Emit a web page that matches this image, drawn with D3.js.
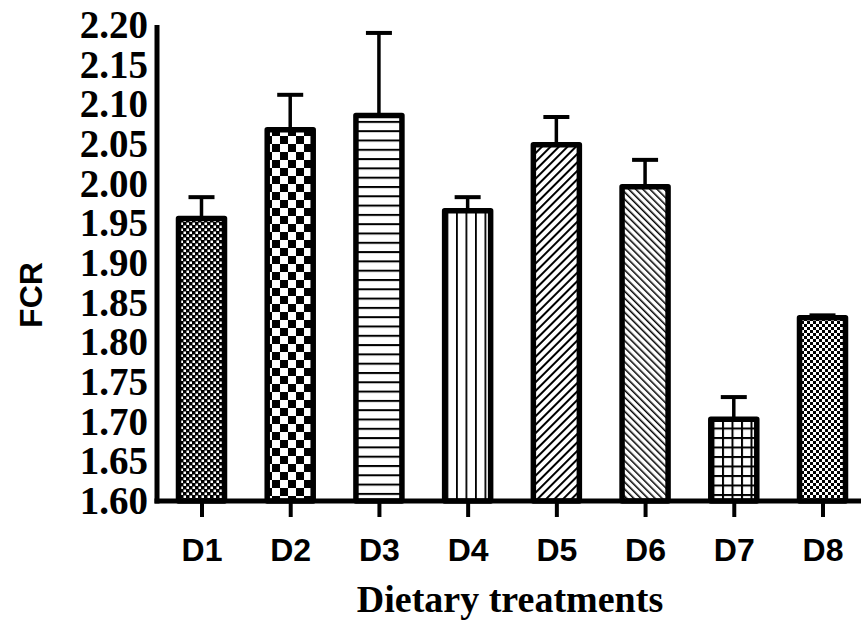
<!DOCTYPE html>
<html>
<head>
<meta charset="utf-8">
<script src="https://cdn.jsdelivr.net/npm/d3@7"></script>
<style>
  html, body { margin: 0; padding: 0; background: #fff; }
  svg { display: block; }
</style>
</head>
<body>
<svg id="chart" width="861" height="622"></svg>
<script>
// Feed conversion ratio per dietary treatment (mean + upper SE)
const treatments = ["D1", "D2", "D3", "D4", "D5", "D6", "D7", "D8"];
const fcrMean = [1.956, 2.068, 2.086, 1.966, 2.049, 1.996, 1.703, 1.831];
const fcrUpper = [1.983, 2.112, 2.190, 1.983, 2.084, 2.030, 1.731, 1.834];
const yTicks = [1.60, 1.65, 1.70, 1.75, 1.80, 1.85, 1.90, 1.95, 2.00, 2.05, 2.10, 2.15, 2.20];
const fillPatterns = ["dots", "checker", "hlines", "vlines", "fwdiag", "backdiag", "grid", "finecheck"];

const svg = d3.select("#chart");
const axisX = 157, axisTop = 25, axisBottom = 501;

const y = d3.scaleLinear().domain([1.6, 2.2]).range([axisBottom, axisTop]);
const x = d3.scalePoint().domain(treatments).range([201.5, 822.5]);
const barW = 46;

// ---- hatch / fill patterns ----
const defs = svg.append("defs");
function pat(id, w, h) {
  return defs.append("pattern").attr("id", id).attr("patternUnits", "userSpaceOnUse")
    .attr("width", w).attr("height", h);
}
// D1: white dot lattice on black
let p = pat("dots", 6, 6);
p.append("rect").attr("width", 6).attr("height", 6).attr("fill", "#000");
p.append("rect").attr("x", 0.5).attr("y", 0.5).attr("width", 2.5).attr("height", 2.5).attr("fill", "#fff");
p.append("rect").attr("x", 3.5).attr("y", 3.5).attr("width", 2.5).attr("height", 2.5).attr("fill", "#fff");
// D2: coarse checkerboard
p = pat("checker", 16, 16);
p.append("rect").attr("width", 16).attr("height", 16).attr("fill", "#fff");
p.append("rect").attr("width", 8).attr("height", 8).attr("fill", "#000");
p.append("rect").attr("x", 8).attr("y", 8).attr("width", 8).attr("height", 8).attr("fill", "#000");
// D3: horizontal lines
p = pat("hlines", 10, 9.3);
p.append("rect").attr("width", 10).attr("height", 9.3).attr("fill", "#fff");
p.append("rect").attr("y", 0).attr("width", 10).attr("height", 2).attr("fill", "#000");
// D4: vertical lines
p = pat("vlines", 9.5, 10);
p.append("rect").attr("width", 9.5).attr("height", 10).attr("fill", "#fff");
p.append("rect").attr("x", 0).attr("width", 1.8).attr("height", 10).attr("fill", "#000");
// D5: forward diagonal
p = pat("fwdiag", 6, 6).attr("patternTransform", "rotate(45)");
p.append("rect").attr("width", 6).attr("height", 6).attr("fill", "#fff");
p.append("rect").attr("width", 2).attr("height", 6).attr("fill", "#000");
// D6: backward diagonal
p = pat("backdiag", 5, 5).attr("patternTransform", "rotate(-45)");
p.append("rect").attr("width", 5).attr("height", 5).attr("fill", "#fff");
p.append("rect").attr("width", 1.5).attr("height", 5).attr("fill", "#000");
// D7: square grid
p = pat("grid", 9.5, 9.5);
p.append("rect").attr("width", 9.5).attr("height", 9.5).attr("fill", "#fff");
p.append("rect").attr("width", 9.5).attr("height", 2).attr("fill", "#000");
p.append("rect").attr("width", 2).attr("height", 9.5).attr("fill", "#000");
// D8: fine checker
p = pat("finecheck", 6, 6);
p.append("rect").attr("width", 6).attr("height", 6).attr("fill", "#fff");
p.append("rect").attr("width", 3).attr("height", 3).attr("fill", "#000");
p.append("rect").attr("x", 3).attr("y", 3).attr("width", 3).attr("height", 3).attr("fill", "#000");

const data = treatments.map((t, i) => ({ t, mean: fcrMean[i], upper: fcrUpper[i], fill: fillPatterns[i] }));

// ---- error bars (upper only) ----
const err = svg.append("g").attr("stroke", "#000");
err.selectAll("line.stem").data(data).join("line")
  .attr("x1", d => x(d.t)).attr("x2", d => x(d.t))
  .attr("y1", d => y(d.mean)).attr("y2", d => y(d.upper))
  .attr("stroke-width", 3.5);
err.selectAll("line.cap").data(data).join("line")
  .attr("x1", d => x(d.t) - 13).attr("x2", d => x(d.t) + 13)
  .attr("y1", d => y(d.upper)).attr("y2", d => y(d.upper))
  .attr("stroke-width", 4);

// ---- bars ----
svg.append("g").selectAll("rect").data(data).join("rect")
  .attr("x", d => x(d.t) - barW / 2)
  .attr("width", barW)
  .attr("y", d => y(d.mean))
  .attr("height", d => y(1.6) - y(d.mean))
  .attr("fill", d => `url(#${d.fill})`)
  .attr("stroke", "#000")
  .attr("stroke-width", 5.5)
  .attr("stroke-linejoin", "round");

// ---- axes ----
const yAxis = svg.append("g").attr("transform", `translate(${axisX},0)`)
  .call(d3.axisLeft(y).tickValues(yTicks).tickFormat(d3.format(".2f")).tickSize(0).tickPadding(9));
yAxis.select(".domain").remove();
yAxis.selectAll("text")
  .attr("font-family", "'Liberation Serif', 'Times New Roman', serif")
  .attr("font-weight", "bold").attr("font-size", 39).attr("fill", "#000");

svg.append("line").attr("x1", axisX).attr("x2", axisX).attr("y1", axisTop).attr("y2", axisBottom + 2.5)
  .attr("stroke", "#000").attr("stroke-width", 5);

const xAxis = svg.append("g").attr("transform", `translate(0,${axisBottom})`)
  .call(d3.axisBottom(x).tickSize(16).tickPadding(21));
xAxis.select(".domain").remove();
xAxis.selectAll(".tick line").attr("stroke", "#000").attr("stroke-width", 4);
xAxis.selectAll("text")
  .attr("font-family", "'Liberation Sans', Arial, sans-serif")
  .attr("font-weight", "bold").attr("font-size", 32).attr("fill", "#000");

svg.append("line").attr("x1", axisX - 2.5).attr("x2", 861).attr("y1", axisBottom).attr("y2", axisBottom)
  .attr("stroke", "#000").attr("stroke-width", 5);

// ---- axis titles ----
svg.append("text")
  .attr("transform", "translate(42,295) rotate(-90)")
  .attr("text-anchor", "middle")
  .attr("font-family", "'Liberation Sans', Arial, sans-serif")
  .attr("font-weight", "bold").attr("font-size", 32)
  .text("FCR");

svg.append("text")
  .attr("x", 510).attr("y", 612)
  .attr("text-anchor", "middle")
  .attr("font-family", "'Liberation Serif', 'Times New Roman', serif")
  .attr("font-weight", "bold").attr("font-size", 38)
  .text("Dietary treatments");
</script>
</body>
</html>
